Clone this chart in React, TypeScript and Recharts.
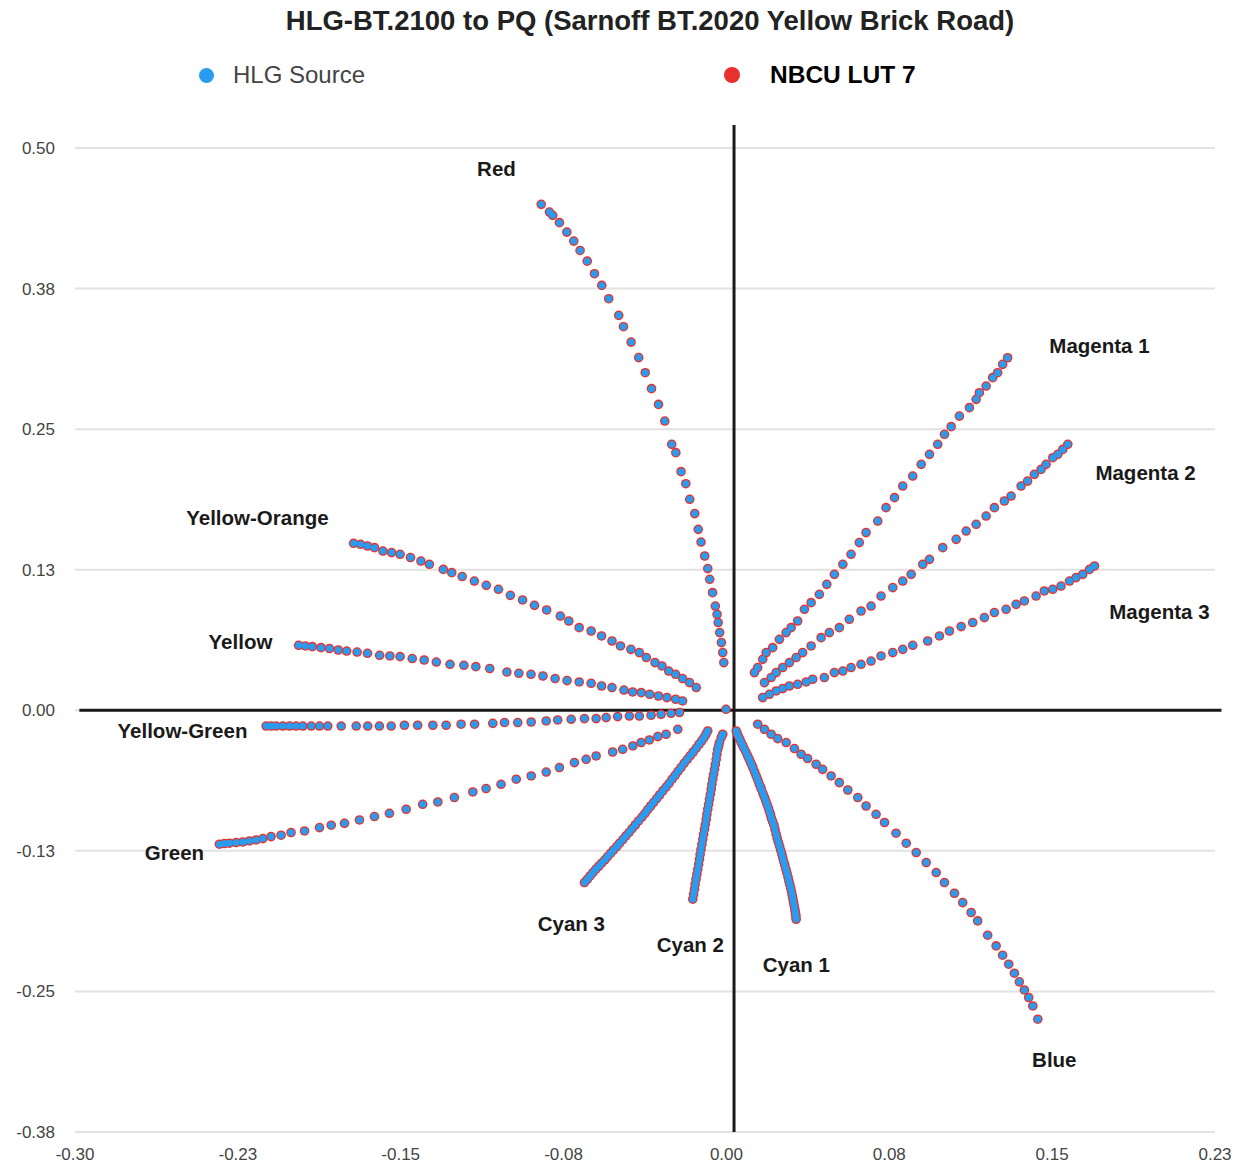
import React from "react";
import {
  CartesianGrid,
  ReferenceDot,
  ReferenceLine,
  Scatter,
  ScatterChart,
  XAxis,
  YAxis,
} from "recharts";

type Pt = [number, number];

// each arm, from outer end towards the centre
const redArm: Pt[] = [
  [-0.0853, 0.4499], [-0.0815, 0.443], [-0.08, 0.4401], [-0.0769, 0.4336], [-0.0735, 0.4252],
  [-0.0703, 0.4172], [-0.0674, 0.4089], [-0.0641, 0.3994], [-0.0608, 0.3882], [-0.0574, 0.3778],
  [-0.0542, 0.366], [-0.0496, 0.3512], [-0.0474, 0.3411], [-0.0439, 0.3274], [-0.0404, 0.3136],
  [-0.0374, 0.3002], [-0.0345, 0.286], [-0.0313, 0.272], [-0.0284, 0.2572], [-0.0252, 0.2365],
  [-0.0233, 0.2291], [-0.0209, 0.2122], [-0.0187, 0.2015], [-0.0169, 0.1876], [-0.0146, 0.1749],
  [-0.013, 0.1609], [-0.0117, 0.1496], [-0.01, 0.1372], [-0.0086, 0.126], [-0.0077, 0.1165],
  [-0.0064, 0.1046], [-0.0051, 0.0927], [-0.0043, 0.0853], [-0.0038, 0.078], [-0.0031, 0.0691],
  [-0.0023, 0.0602], [-0.0017, 0.0513], [-0.0012, 0.0424],
];

const magenta1: Pt[] = [
  [0.1295, 0.3135], [0.1272, 0.3076], [0.1249, 0.3002], [0.1226, 0.2958], [0.1196, 0.2883],
  [0.1165, 0.2824], [0.115, 0.2765], [0.1119, 0.2691], [0.1073, 0.2616], [0.1035, 0.2522],
  [0.1004, 0.2454], [0.0973, 0.2365], [0.0935, 0.2276], [0.0897, 0.2187], [0.0858, 0.2083],
  [0.0812, 0.1994], [0.0774, 0.1891], [0.0735, 0.1802], [0.0697, 0.1683], [0.0643, 0.158],
  [0.0612, 0.1491], [0.0574, 0.1387], [0.0536, 0.1298], [0.0497, 0.1209], [0.0462, 0.112],
  [0.0428, 0.1031], [0.039, 0.0957], [0.0359, 0.0898], [0.0328, 0.0794], [0.0298, 0.0735],
  [0.0275, 0.0691], [0.0244, 0.0631], [0.0213, 0.0557], [0.0183, 0.0513], [0.0167, 0.0453],
  [0.0144, 0.038], [0.0129, 0.0335],
];

const magenta2: Pt[] = [
  [0.1572, 0.2365], [0.1549, 0.232], [0.1526, 0.2276], [0.1503, 0.2246], [0.1472, 0.2187],
  [0.1449, 0.2142], [0.1418, 0.2098], [0.1387, 0.2038], [0.1357, 0.1994], [0.1311, 0.1905],
  [0.128, 0.1861], [0.1234, 0.1802], [0.1196, 0.1727], [0.115, 0.1654], [0.1104, 0.1594],
  [0.1058, 0.152], [0.0996, 0.1446], [0.0935, 0.1342], [0.0904, 0.1298], [0.0851, 0.1209],
  [0.0812, 0.1149], [0.0766, 0.1091], [0.0712, 0.1016], [0.0666, 0.0927], [0.062, 0.0883],
  [0.0566, 0.0809], [0.052, 0.0735], [0.0474, 0.0691], [0.0436, 0.0646], [0.039, 0.0572],
  [0.0351, 0.0513], [0.0321, 0.0469], [0.029, 0.0424], [0.0259, 0.038], [0.0229, 0.0335],
  [0.0206, 0.0291], [0.0175, 0.0246],
];

const magenta3: Pt[] = [
  [0.1695, 0.1283], [0.1672, 0.1253], [0.1641, 0.1209], [0.161, 0.118], [0.158, 0.1149],
  [0.1541, 0.1105], [0.1503, 0.1076], [0.1464, 0.1061], [0.1426, 0.1016], [0.1372, 0.0972],
  [0.1334, 0.0942], [0.1288, 0.0898], [0.1234, 0.0869], [0.1188, 0.0824], [0.1134, 0.078],
  [0.1081, 0.0744], [0.1027, 0.0705], [0.0981, 0.0661], [0.0927, 0.0616], [0.0858, 0.0578],
  [0.0812, 0.0542], [0.0766, 0.0513], [0.0712, 0.0483], [0.0666, 0.0438], [0.062, 0.0409],
  [0.0574, 0.038], [0.0536, 0.0349], [0.0497, 0.0335], [0.0451, 0.0291], [0.0397, 0.0276],
  [0.0367, 0.0252], [0.0328, 0.0231], [0.029, 0.0216], [0.0259, 0.0193], [0.0229, 0.0172],
  [0.0198, 0.0142], [0.0167, 0.0113],
];

const yellowOrange: Pt[] = [
  [-0.1717, 0.1485], [-0.1685, 0.1476], [-0.1653, 0.1461], [-0.1621, 0.1446], [-0.1582, 0.1416],
  [-0.1542, 0.1402], [-0.1503, 0.1387], [-0.1455, 0.1358], [-0.1407, 0.1327], [-0.1368, 0.1298],
  [-0.1304, 0.1253], [-0.1265, 0.1224], [-0.1217, 0.1189], [-0.1161, 0.1149], [-0.1106, 0.1111],
  [-0.105, 0.1076], [-0.0995, 0.1022], [-0.0939, 0.0981], [-0.0884, 0.0933], [-0.0828, 0.0892],
  [-0.0765, 0.0838], [-0.0726, 0.0794], [-0.0678, 0.0735], [-0.0623, 0.0705], [-0.0575, 0.0661],
  [-0.0527, 0.0616], [-0.0488, 0.0572], [-0.044, 0.0542], [-0.0401, 0.0513], [-0.0369, 0.0469],
  [-0.0329, 0.0424], [-0.0297, 0.0394], [-0.0266, 0.0349], [-0.0234, 0.032], [-0.0202, 0.0282],
  [-0.017, 0.0246], [-0.0139, 0.0202],
];

const yellow: Pt[] = [
  [-0.197, 0.0578], [-0.1939, 0.0572], [-0.1907, 0.0566], [-0.1867, 0.0557], [-0.1828, 0.0549],
  [-0.1788, 0.0536], [-0.1749, 0.0527], [-0.1701, 0.0518], [-0.1653, 0.0507], [-0.1597, 0.0489],
  [-0.155, 0.0483], [-0.1503, 0.0477], [-0.1447, 0.046], [-0.1392, 0.0447], [-0.1336, 0.0429],
  [-0.1273, 0.0409], [-0.1209, 0.04], [-0.1154, 0.0388], [-0.109, 0.0371], [-0.1011, 0.034],
  [-0.0956, 0.0329], [-0.09, 0.032], [-0.0845, 0.0305], [-0.0789, 0.0282], [-0.0734, 0.0264],
  [-0.0678, 0.0252], [-0.0623, 0.024], [-0.0575, 0.0216], [-0.0527, 0.0202], [-0.0472, 0.018],
  [-0.0432, 0.0163], [-0.0392, 0.0157], [-0.0353, 0.0142], [-0.0313, 0.0127], [-0.0274, 0.0113],
  [-0.0234, 0.0098], [-0.0202, 0.0083],
];

const yellowGreen: Pt[] = [
  [-0.212, -0.014], [-0.2097, -0.014], [-0.2074, -0.014], [-0.2043, -0.014], [-0.2012, -0.014],
  [-0.1982, -0.014], [-0.1951, -0.014], [-0.1912, -0.014], [-0.1874, -0.014], [-0.1836, -0.014],
  [-0.1774, -0.014], [-0.1705, -0.014], [-0.1652, -0.014], [-0.1598, -0.014], [-0.1544, -0.014],
  [-0.1483, -0.0133], [-0.1422, -0.0133], [-0.1352, -0.0133], [-0.1291, -0.0133], [-0.1222, -0.0124],
  [-0.116, -0.0124], [-0.1076, -0.0116], [-0.1022, -0.0109], [-0.0961, -0.0109], [-0.0899, -0.0104],
  [-0.083, -0.0095], [-0.0777, -0.0086], [-0.0715, -0.008], [-0.0654, -0.0074], [-0.06, -0.0074],
  [-0.0554, -0.0065], [-0.0501, -0.0056], [-0.0447, -0.0051], [-0.0401, -0.0051], [-0.0347, -0.0044],
  [-0.0301, -0.0036], [-0.0255, -0.0027], [-0.0216, -0.002],
];

const green: Pt[] = [
  [-0.2335, -0.1191], [-0.2312, -0.1185], [-0.2289, -0.1182], [-0.2258, -0.1176], [-0.2227, -0.1171],
  [-0.2197, -0.1162], [-0.2166, -0.1153], [-0.2135, -0.1141], [-0.2097, -0.1123], [-0.2051, -0.1111],
  [-0.2005, -0.1087], [-0.1943, -0.1073], [-0.1874, -0.1043], [-0.182, -0.1022], [-0.1759, -0.1005],
  [-0.169, -0.0975], [-0.1621, -0.0945], [-0.1552, -0.0916], [-0.1475, -0.088], [-0.1399, -0.0836],
  [-0.1329, -0.0815], [-0.1253, -0.0776], [-0.1168, -0.0726], [-0.1107, -0.0696], [-0.1038, -0.0658],
  [-0.0968, -0.0613], [-0.0899, -0.0584], [-0.083, -0.0549], [-0.0769, -0.0509], [-0.07, -0.0465],
  [-0.0646, -0.0436], [-0.06, -0.0406], [-0.0524, -0.0371], [-0.0478, -0.0347], [-0.0431, -0.0317],
  [-0.0393, -0.0287], [-0.0355, -0.0264], [-0.0316, -0.0234], [-0.0278, -0.0213], [-0.0224, -0.0169],
];

// the cyan arms are sampled so densely that the dots merge into a stroke
const cyan3: Pt[] = [
  [-0.0654, -0.1532], [-0.064, -0.1502], [-0.0628, -0.1473], [-0.0615, -0.1443], [-0.0602, -0.1414],
  [-0.0588, -0.1387], [-0.0575, -0.136], [-0.056, -0.133], [-0.0547, -0.1301], [-0.0533, -0.1271],
  [-0.052, -0.1242], [-0.0505, -0.1212], [-0.0492, -0.1182], [-0.0477, -0.115], [-0.0463, -0.1117],
  [-0.0448, -0.1085], [-0.0434, -0.1052], [-0.0419, -0.1018], [-0.0405, -0.0984], [-0.0389, -0.095],
  [-0.0375, -0.0916], [-0.0362, -0.0883], [-0.0349, -0.0851], [-0.0335, -0.0818], [-0.0321, -0.0785],
  [-0.0307, -0.0751], [-0.0293, -0.0717], [-0.0278, -0.0683], [-0.0264, -0.0649], [-0.025, -0.0613],
  [-0.0236, -0.0578], [-0.0223, -0.0543], [-0.0209, -0.0509], [-0.0195, -0.0472], [-0.018, -0.0436],
  [-0.0166, -0.0403], [-0.0153, -0.0371], [-0.0139, -0.0336], [-0.0126, -0.0302], [-0.0114, -0.0272],
  [-0.0103, -0.0243], [-0.0094, -0.0213], [-0.0086, -0.0184],
];

const cyan2: Pt[] = [
  [-0.0155, -0.168], [-0.0151, -0.1636], [-0.0147, -0.1591], [-0.0144, -0.1547], [-0.014, -0.1502],
  [-0.0136, -0.1458], [-0.0132, -0.1414], [-0.0128, -0.137], [-0.0124, -0.1325], [-0.0121, -0.1281],
  [-0.0117, -0.1236], [-0.0113, -0.1192], [-0.0109, -0.1147], [-0.0105, -0.1103], [-0.0101, -0.1058],
  [-0.0097, -0.1014], [-0.0093, -0.0969], [-0.009, -0.0925], [-0.0086, -0.088], [-0.0082, -0.0836],
  [-0.0078, -0.0791], [-0.0074, -0.0747], [-0.007, -0.0702], [-0.0067, -0.0658], [-0.0063, -0.0613],
  [-0.0059, -0.0569], [-0.0055, -0.0525], [-0.0051, -0.0481], [-0.0047, -0.0436], [-0.0044, -0.0392],
  [-0.004, -0.0347], [-0.0036, -0.0317], [-0.0032, -0.0287], [-0.0024, -0.0243], [-0.0017, -0.0213],
];

const cyan1: Pt[] = [
  [0.0321, -0.1858], [0.032, -0.1836], [0.0319, -0.1814], [0.0317, -0.1792], [0.0315, -0.1769],
  [0.0312, -0.1738], [0.0309, -0.1707], [0.0306, -0.1676], [0.0303, -0.1645], [0.03, -0.1614],
  [0.0296, -0.1582], [0.0292, -0.1551], [0.0288, -0.152], [0.0284, -0.1485], [0.0279, -0.1449],
  [0.0274, -0.1414], [0.0269, -0.1378], [0.0264, -0.1345], [0.0259, -0.1311], [0.0255, -0.1278],
  [0.025, -0.1245], [0.0245, -0.1209], [0.0239, -0.1173], [0.0234, -0.1138], [0.0229, -0.1102],
  [0.0224, -0.1062], [0.0219, -0.1022], [0.0213, -0.0991], [0.0207, -0.096], [0.0203, -0.0929],
  [0.0198, -0.0898], [0.0193, -0.0867], [0.0187, -0.0836], [0.0181, -0.0805], [0.0175, -0.0773],
  [0.0168, -0.0738], [0.0161, -0.0702], [0.0156, -0.0676], [0.015, -0.0649], [0.0144, -0.0617],
  [0.0137, -0.0584], [0.013, -0.0548], [0.0122, -0.0511], [0.0117, -0.0487], [0.0111, -0.0462],
  [0.0105, -0.0434], [0.0098, -0.0406], [0.009, -0.0372], [0.0081, -0.0338], [0.0075, -0.0313],
  [0.0068, -0.0287], [0.0062, -0.0259], [0.0055, -0.0231], [0.005, -0.0208], [0.0045, -0.0184],
];

const blueArm: Pt[] = [
  [0.1434, -0.2747], [0.1411, -0.2629], [0.1392, -0.2554], [0.1372, -0.2487], [0.1349, -0.2415],
  [0.1326, -0.2338], [0.13, -0.2258], [0.1272, -0.2178], [0.1242, -0.2095], [0.1203, -0.2],
  [0.1157, -0.1873], [0.1127, -0.1798], [0.1088, -0.171], [0.105, -0.1627], [0.1004, -0.1532],
  [0.0966, -0.1443], [0.092, -0.1354], [0.0874, -0.1265], [0.0828, -0.1182], [0.0781, -0.1093],
  [0.0728, -0.0998], [0.0689, -0.0925], [0.0643, -0.0851], [0.0605, -0.0776], [0.0559, -0.0709],
  [0.052, -0.0643], [0.0482, -0.0584], [0.0443, -0.0525], [0.0413, -0.048], [0.0374, -0.0429],
  [0.0344, -0.0391], [0.0313, -0.034], [0.0275, -0.0287], [0.0236, -0.0252], [0.0206, -0.0213],
  [0.0175, -0.0169], [0.0144, -0.0124],
];

const neutral: Pt[] = [[-0.0002, 0.0009]];

const arms = [
  redArm, magenta1, magenta2, magenta3, yellowOrange, yellow,
  yellowGreen, green, cyan3, cyan2, cyan1, blueArm, neutral,
];

// the LUT output lands on the same spots as the source at this scale
const hlgSource = arms.flat().map(([x, y]) => ({ x, y }));
const nbcuLut7 = arms.flat().map(([x, y]) => ({ x, y }));

const armLabels = [
  { name: "Red", x: -0.1059, y: 0.4818 },
  { name: "Magenta 1", x: 0.1718, y: 0.3245 },
  { name: "Magenta 2", x: 0.193, y: 0.2116 },
  { name: "Magenta 3", x: 0.1994, y: 0.088 },
  { name: "Yellow-Orange", x: -0.216, y: 0.1716 },
  { name: "Yellow", x: -0.2238, y: 0.0613 },
  { name: "Yellow-Green", x: -0.2505, y: -0.0178 },
  { name: "Green", x: -0.2542, y: -0.1262 },
  { name: "Cyan 3", x: -0.0714, y: -0.1894 },
  { name: "Cyan 2", x: -0.0166, y: -0.208 },
  { name: "Cyan 1", x: 0.0322, y: -0.2258 },
  { name: "Blue", x: 0.151, y: -0.3103 },
];

const xTicks = [-0.3, -0.225, -0.15, -0.075, 0, 0.075, 0.15, 0.225];
const xTickLabels = ["-0.30", "-0.23", "-0.15", "-0.08", "0.00", "0.08", "0.15", "0.23"];
const yTicks = [-0.375, -0.25, -0.125, 0, 0.125, 0.25, 0.375, 0.5];
const yTickLabels = ["-0.38", "-0.25", "-0.13", "0.00", "0.13", "0.25", "0.38", "0.50"];

const BLUE = "#2a9cf0";
const RED = "#e8302c";
const FONT = '"Liberation Sans", Arial, Helvetica, sans-serif';

const labelFor = (ticks: number[], labels: string[]) => (v: number) => {
  const i = ticks.findIndex((t) => Math.abs(t - v) < 1e-9);
  return i >= 0 ? labels[i] : String(v);
};

export default function App() {
  return (
    <div style={{ position: "relative", width: 1245, height: 1164, background: "#fff", fontFamily: FONT }}>
      <style>{"body{margin:0}"}</style>
      <div
        style={{
          position: "absolute",
          top: 5,
          left: 0,
          width: 1300,
          textAlign: "center",
          fontSize: 27.5,
          fontWeight: 700,
          color: "#222",
        }}
      >
        HLG-BT.2100 to PQ (Sarnoff BT.2020 Yellow Brick Road)
      </div>
      <div style={{ position: "absolute", top: 61, left: 199, display: "flex", alignItems: "center" }}>
        <span style={{ width: 15, height: 15, borderRadius: "50%", background: BLUE, display: "inline-block" }} />
        <span style={{ marginLeft: 19, fontSize: 24, color: "#444" }}>HLG Source</span>
      </div>
      <div style={{ position: "absolute", top: 61, left: 724, display: "flex", alignItems: "center" }}>
        <span style={{ width: 16, height: 16, borderRadius: "50%", background: RED, display: "inline-block" }} />
        <span style={{ marginLeft: 30, fontSize: 24.5, fontWeight: 700, color: "#000" }}>NBCU LUT 7</span>
      </div>
      <ScatterChart width={1245} height={1164} margin={{ top: 148, right: 30, bottom: 2, left: 15 }}>
        <CartesianGrid vertical={false} stroke="#e2e2e2" strokeWidth={2} />
        <XAxis
          type="number"
          dataKey="x"
          domain={[-0.3, 0.225]}
          ticks={xTicks}
          tickFormatter={labelFor(xTicks, xTickLabels)}
          axisLine={false}
          tickLine={false}
          height={30}
          tickMargin={10}
          tick={{ fill: "#444", fontSize: 17, fontFamily: FONT }}
          allowDataOverflow
        />
        <YAxis
          type="number"
          dataKey="y"
          domain={[-0.375, 0.5]}
          ticks={yTicks}
          tickFormatter={labelFor(yTicks, yTickLabels)}
          axisLine={false}
          tickLine={false}
          width={60}
          tickMargin={14}
          tick={{ fill: "#444", fontSize: 17, fontFamily: FONT }}
          allowDataOverflow
        />
        <ReferenceLine
          segment={[{ x: -0.298, y: 0 }, { x: 0.228, y: 0 }]}
          stroke="#1a1a1a"
          strokeWidth={3}
          ifOverflow="visible"
        />
        <ReferenceLine
          segment={[{ x: 0.0035, y: 0.5205 }, { x: 0.0035, y: -0.375 }]}
          stroke="#1a1a1a"
          strokeWidth={3}
          ifOverflow="visible"
        />
        <Scatter
          name="NBCU LUT 7"
          data={nbcuLut7}
          isAnimationActive={false}
          shape={(p: any) => <circle cx={p.cx} cy={p.cy} r={4.8} fill={RED} />}
        />
        <Scatter
          name="HLG Source"
          data={hlgSource}
          isAnimationActive={false}
          shape={(p: any) => <circle cx={p.cx} cy={p.cy} r={3.5} fill={BLUE} />}
        />
        {armLabels.map((l) => (
          <ReferenceDot
            key={l.name}
            x={l.x}
            y={l.y}
            ifOverflow="visible"
            shape={(p: any) => (
              <text
                x={p.cx}
                y={p.cy}
                textAnchor="middle"
                dominantBaseline="central"
                fontSize={20.5}
                fontWeight={700}
                fontFamily={FONT}
                fill="#1a1a1a"
              >
                {l.name}
              </text>
            )}
          />
        ))}
      </ScatterChart>
    </div>
  );
}
